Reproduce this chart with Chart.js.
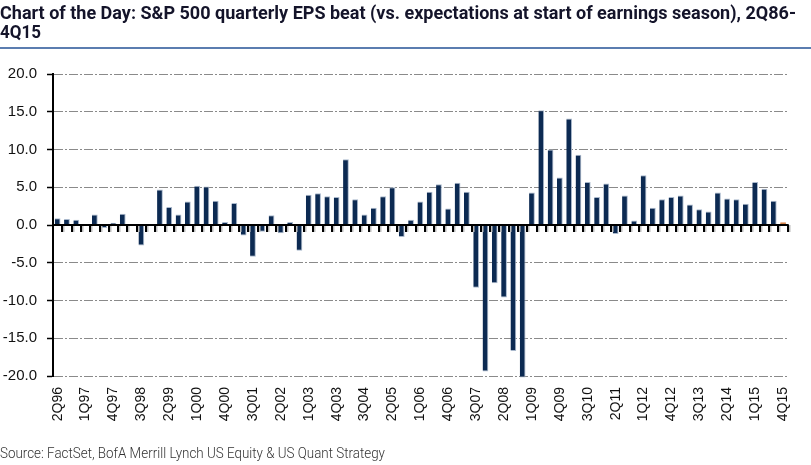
<!DOCTYPE html>
<html>
<head>
<meta charset="utf-8">
<script src="https://cdn.jsdelivr.net/npm/chart.js@4.4.1/dist/chart.umd.min.js"></script>
<style>
  html, body { margin: 0; padding: 0; background: #fff; }
  #wrap { position: relative; width: 811px; height: 465px; overflow: hidden; }
  #chart { position: absolute; left: 0; top: 0; }
  .fit { position: absolute; left: 0; white-space: nowrap; transform-origin: 0 0; }
  #title1, #title2 { font-family: "Roboto", "Liberation Sans", sans-serif; font-weight: bold; font-size: 18px; color: #14142a; }
  #title1 { top: 2px; }
  #title2 { top: 21px; }
  #rule { position: absolute; left: 0; top: 47px; width: 811px; height: 2px; background: #5b7db0; }
  #source { top: 444px; font-family: "Roboto", "Liberation Sans", sans-serif; font-weight: 300; font-size: 15px; color: #333; }
</style>
</head>
<body>
<div id="wrap">
  <canvas id="chart" width="811" height="465"></canvas>
  <div id="title1" class="fit" data-w="796">Chart of the Day: S&amp;P 500 quarterly EPS beat (vs. expectations at start of earnings season), 2Q86-</div>
  <div id="title2" class="fit" data-w="41">4Q15</div>
  <div id="rule"></div>
  <div id="source" class="fit" data-w="385">Source: FactSet, BofA Merrill Lynch US Equity &amp; US Quant Strategy</div>
</div>
<script>
// Trimestres 2Q96 - 4Q15
var quarters = [
  '2Q96','3Q96','4Q96','1Q97','2Q97','3Q97','4Q97','1Q98','2Q98','3Q98','4Q98',
  '1Q99','2Q99','3Q99','4Q99','1Q00','2Q00','3Q00','4Q00','1Q01','2Q01','3Q01','4Q01',
  '1Q02','2Q02','3Q02','4Q02','1Q03','2Q03','3Q03','4Q03','1Q04','2Q04','3Q04','4Q04',
  '1Q05','2Q05','3Q05','4Q05','1Q06','2Q06','3Q06','4Q06','1Q07','2Q07','3Q07','4Q07',
  '1Q08','2Q08','3Q08','4Q08','1Q09','2Q09','3Q09','4Q09','1Q10','2Q10','3Q10','4Q10',
  '1Q11','2Q11','3Q11','4Q11','1Q12','2Q12','3Q12','4Q12','1Q13','2Q13','3Q13','4Q13',
  '1Q14','2Q14','3Q14','4Q14','1Q15','2Q15','3Q15','4Q15'
];

// EPS beat (%)
var epsBeat = [
  0.9, 0.8, 0.7, 0.0, 1.4, -0.4, 0.3, 1.5, 0.0, -2.7, 0.0,
  4.7, 2.4, 1.4, 3.1, 5.2, 5.1, 3.2, 0.4, 2.9, -1.4, -4.2, -0.9,
  1.3, -1.1, 0.4, -3.4, 4.0, 4.2, 3.8, 3.7, 8.7, 3.4, 1.4, 2.3,
  3.8, 5.0, -1.6, 0.7, 3.1, 4.4, 5.4, 2.2, 5.6, 4.4, -8.3, -19.4,
  -7.7, -9.6, -16.7, -20.2, 4.3, 15.2, 10.0, 6.3, 14.1, 9.3, 5.7, 3.7,
  5.5, -1.2, 3.9, 0.6, 6.6, 2.3, 3.4, 3.7, 3.9, 2.7, 2.1, 1.8,
  4.3, 3.5, 3.4, 2.8, 5.7, 4.8, 3.2, 0.35
];

var yTicks = [-20, -15, -10, -5, 0, 5, 10, 15, 20];

var navy = '#0c2a52';
var orange = '#c8641e';

var barColors = quarters.map(function (q, i) {
  return i === quarters.length - 1 ? orange : navy;
});
var edgeColors = quarters.map(function (q, i) {
  return i === quarters.length - 1 ? '#d9824a' : '#a9b8cc';
});

// Linha do zero com marcas entre as categorias
var zeroAxis = {
  id: 'zeroAxis',
  afterDatasetsDraw: function (chart) {
    var x = chart.scales.x, y = chart.scales.y, ctx = chart.ctx;
    var y0 = Math.round(y.getPixelForValue(0));
    var step = (x.right - x.left) / quarters.length;
    ctx.save();
    for (var k = 1; k <= quarters.length; k++) {
      var px = Math.round(x.left + k * step);
      ctx.fillStyle = '#bdbdbd';
      ctx.fillRect(px + 1, y0, 1.5, 7);
      ctx.fillStyle = '#000';
      ctx.fillRect(px - 1, y0, 2, 7);
    }
    ctx.fillRect(x.left, y0 - 1, x.right - x.left + 1, 2);
    ctx.restore();
  }
};

new Chart(document.getElementById('chart').getContext('2d'), {
  type: 'bar',
  data: {
    labels: quarters,
    datasets: [{
      data: epsBeat,
      backgroundColor: barColors,
      borderColor: edgeColors,
      borderWidth: { top: 1, right: 1, bottom: 1, left: 0 },
      borderSkipped: 'start',
      barPercentage: 0.62,
      categoryPercentage: 1.0,
      clip: 6
    }]
  },
  plugins: [zeroAxis],
  options: {
    responsive: false,
    animation: false,
    layout: { padding: { top: 74, right: 21, left: 0, bottom: 0 } },
    plugins: { legend: { display: false }, tooltip: { enabled: false } },
    scales: {
      x: {
        afterFit: function (s) { s.height = 89; },
        grid: { display: false, drawTicks: false },
        border: { display: false },
        ticks: {
          autoSkip: false,
          minRotation: 90,
          maxRotation: 90,
          padding: 11,
          color: '#111',
          font: { family: 'Liberation Sans, Arial, sans-serif', size: 14 },
          callback: function (v, i) { return i % 3 === 0 ? quarters[i] : ''; }
        }
      },
      y: {
        min: yTicks[0],
        max: yTicks[yTicks.length - 1],
        afterFit: function (s) { s.width = 53; },
        afterBuildTicks: function (s) {
          s.ticks = yTicks.map(function (v) { return { value: v }; });
        },
        border: { display: true, color: '#000', width: 2, dash: [9, 2, 2, 2] },
        grid: {
          color: function (c) { return c.tick && c.tick.value === 0 ? 'rgba(0,0,0,0)' : '#8a8a8a'; },
          lineWidth: 1,
          tickColor: '#000',
          tickLength: 6,
          tickWidth: 1.5,
          tickBorderDash: []
        },
        ticks: {
          padding: 10,
          color: '#111',
          font: { family: 'Liberation Sans, Arial, sans-serif', size: 15 },
          callback: function (v) { return v.toFixed(1); }
        }
      }
    }
  }
});

// ajusta a largura dos textos ao desenho original
document.querySelectorAll('.fit').forEach(function (el) {
  var w = el.getBoundingClientRect().width;
  var target = parseFloat(el.getAttribute('data-w'));
  el.style.transform = 'scaleX(' + (target / w) + ')';
});
</script>
</body>
</html>
